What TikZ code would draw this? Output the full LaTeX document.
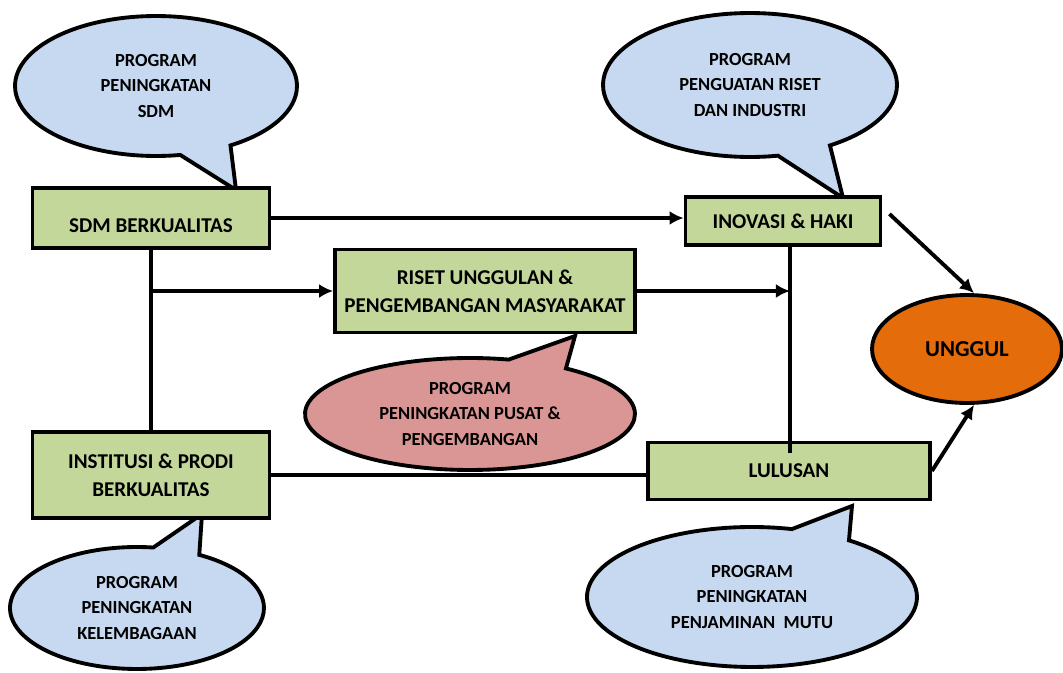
\documentclass[tikz,border=0pt]{standalone}
\usepackage{fontspec}
\setmainfont{Carlito}
\usetikzlibrary{shapes.callouts,shapes.geometric,arrows.meta}
\definecolor{boxgreen}{RGB}{196,215,155}
\definecolor{callblue}{RGB}{198,217,240}
\definecolor{callpink}{RGB}{217,150,148}
\definecolor{unggulorange}{RGB}{228,108,10}

\begin{document}
\begin{tikzpicture}[x=0.02cm,y=-0.02cm,
box/.style={draw,line width=2.2pt,fill=boxgreen,align=center,inner sep=0pt,font=\fontsize{12}{16}\selectfont\bfseries},
bubble/.style={ellipse callout,draw,line width=2.2pt,fill=callblue,align=center,inner sep=0pt,callout pointer arc=22,font=\fontsize{10.5}{14.5}\selectfont\bfseries},
link/.style={line width=2.2pt},
arr/.style={line width=2.2pt,-{Latex[length=8pt,width=8pt]}}]
\useasboundingbox (0,0) rectangle (1063,673);
% callouts
\node[bubble,minimum width=5.64cm,minimum height=2.8cm,callout absolute pointer={(236,190)}] (csdm) at (156,86) {PROGRAM\\PENINGKATAN\\SDM};
\node[bubble,minimum width=5.88cm,minimum height=2.88cm,callout absolute pointer={(843,198)}] (criset) at (750,85) {PROGRAM\\PENGUATAN RISET\\DAN INDUSTRI};
\node[bubble,fill=callpink,minimum width=6.6cm,minimum height=2.24cm,callout absolute pointer={(575,336)}] (cpusat) at (470,414) {PROGRAM\\PENINGKATAN PUSAT \&\\PENGEMBANGAN};
\node[bubble,minimum width=5.08cm,minimum height=2.44cm,callout absolute pointer={(202,514)}] (clembaga) at (137,608) {PROGRAM\\PENINGKATAN\\KELEMBAGAAN};
\node[bubble,minimum width=6.6cm,minimum height=2.8cm,callout absolute pointer={(852,506)}] (cmutu) at (752,597) {PROGRAM\\PENINGKATAN\\PENJAMINAN~~MUTU};
% boxes
\node[box,minimum width=4.74cm,minimum height=1.2cm,text height=0.6cm] (sdm) at (151,218) {SDM BERKUALITAS};
\node[box,minimum width=3.9cm,minimum height=0.96cm] (inov) at (783,221) {INOVASI \& HAKI};
\node[box,minimum width=6cm,minimum height=1.66cm] (riset) at (485,291) {RISET UNGGULAN \&\\PENGEMBANGAN MASYARAKAT};
\node[box,minimum width=4.74cm,minimum height=1.72cm] (inst) at (151,475) {INSTITUSI \& PRODI\\BERKUALITAS};
\node[box,minimum width=5.64cm,minimum height=1.14cm] (lulus) at (789,471) {LULUSAN};
\node[ellipse,draw,line width=2.2pt,fill=unggulorange,inner sep=0pt,minimum width=3.8cm,minimum height=2.16cm,font=\fontsize{13}{16}\selectfont\bfseries] (unggul) at (967,349) {UNGGUL};
\coordinate (lend) at (790,453);
% connectors
\draw[arr] (sdm.east) -- (inov.west |- sdm.east);
\draw[link] (sdm.south) -- (inst.north);
\draw[arr] (sdm.south |- riset.west) -- (riset.west);
\draw[arr] (riset.east) -- (lend |- riset.east);
\draw[link] (lend |- inov.south) -- (lend);
\draw[link] (inst.east) -- (inst.east -| lulus.west);
\draw[arr] ([xshift=4pt,yshift=4pt]inov.east) -- ([xshift=4pt]unggul.north);
\draw[arr] (lulus.east) -- ([xshift=4pt]unggul.south);
\end{tikzpicture}
\end{document}
